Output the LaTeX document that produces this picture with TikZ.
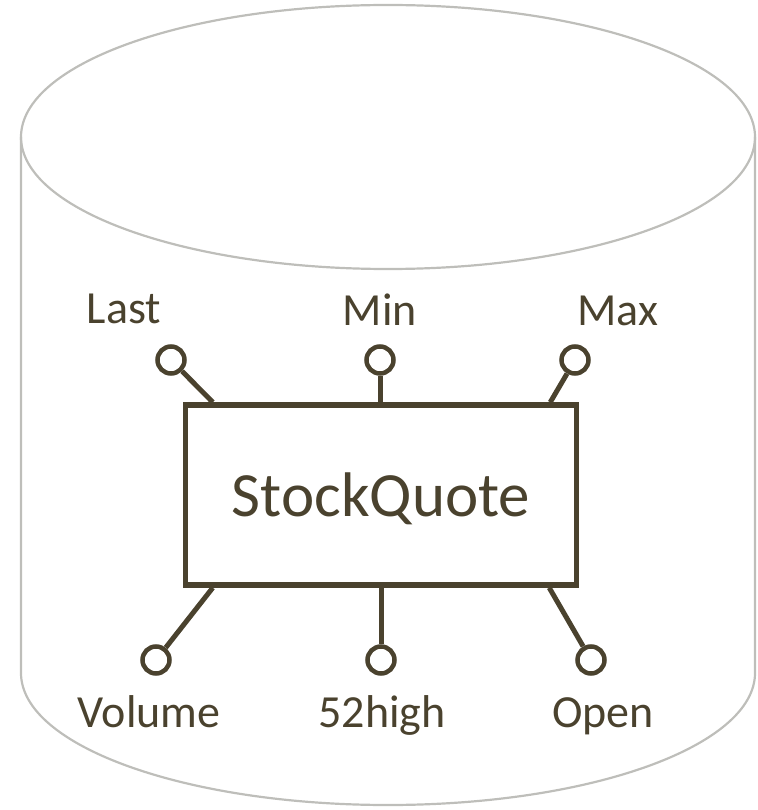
\documentclass[tikz,border=0pt]{standalone}
\usepackage{fontspec}
\setmainfont{Carlito}
\usetikzlibrary{calc}
\definecolor{olive}{RGB}{74,66,46}
\definecolor{cylgray}{RGB}{190,190,186}
\begin{document}
\begin{tikzpicture}[x=1pt,y=1pt,
  cyl/.style={draw=cylgray,line width=2.2pt},
  classbox/.style={draw=olive,line width=5.5pt,rectangle,minimum width=391pt,minimum height=180pt,inner sep=0pt},
  port/.style={draw=olive,line width=4.5pt,circle,minimum size=27pt,inner sep=0pt,fill=white},
  lbl/.style={anchor=base,font=\fontsize{46}{50}\selectfont,text=olive,inner sep=0pt},
  conn/.style={draw=olive,line width=5pt}]
\useasboundingbox (0,0) rectangle (757,-810);
% cylinder
\draw[cyl] (388,-137) ellipse [x radius=367, y radius=132];
\draw[cyl] (21,-137) -- (21,-673) arc[start angle=180,end angle=360,x radius=367,y radius=132] -- (755,-137);
% class box
\node[classbox] (box) at (381,-495) {};
\node[anchor=base,font=\fontsize{63}{70}\selectfont,text=olive,inner sep=0pt] (name) at (381,-516) {StockQuote};
% ports
\node[port] (plast) at (171,-360) {};
\node[port] (pmin) at (380,-360) {};
\node[port] (pmax) at (575,-360) {};
\node[port] (pvol) at (156,-660) {};
\node[port] (phigh) at (381,-660) {};
\node[port] (popen) at (591,-660) {};
% connectors
\coordinate (clast) at ($(box.north west)+(30,0)$);
\coordinate (cmax) at ($(box.north east)+(-29,0)$);
\coordinate (cvol) at ($(box.south west)+(30,0)$);
\coordinate (copen) at ($(box.south east)+(-30,0)$);
\draw[conn] (plast) -- (clast);
\draw[conn] (pmin) -- (pmin |- box.north);
\draw[conn] (pmax) -- (cmax);
\draw[conn] (pvol) -- (cvol);
\draw[conn] (phigh) -- (phigh |- box.south);
\draw[conn] (popen) -- (copen);
% labels
\node[lbl] (llast) at (124,-323) {Last};
\node[lbl] (lmin) at (380,-325) {Min};
\node[lbl] (lmax) at (618,-325) {Max};
\node[lbl] (lvol) at (149,-727) {Volume};
\node[lbl] (lhigh) at (382,-727) {52high};
\node[lbl] (lopen) at (603,-727) {Open};
\end{tikzpicture}
\end{document}
